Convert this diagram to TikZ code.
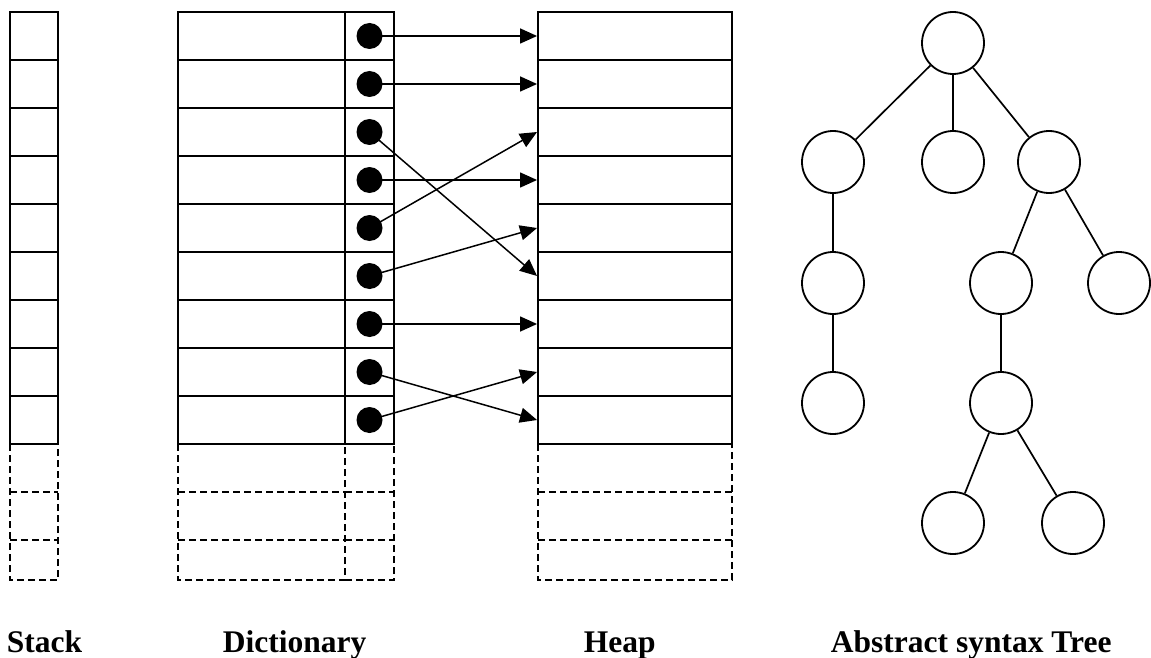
\documentclass[tikz,border=0pt]{standalone}
\usepackage{fontspec}
\setmainfont{Liberation Serif}
\usetikzlibrary{arrows.meta}
\begin{document}
\begin{tikzpicture}[x=1pt,y=-1pt,
  line width=1.9pt,
  cell/.style={draw, rectangle, inner sep=0pt, minimum height=48pt},
  ghost/.style={dash pattern=on 7pt off 4pt},
  ptr/.style={fill=black, circle, inner sep=0pt, minimum size=26pt},
  link/.style={-{Triangle[length=17pt,width=15pt]}, line width=1.5pt},
  tnode/.style={draw, circle, inner sep=0pt, minimum size=62pt, line width=1.8pt},
  tedge/.style={line width=1.7pt},
  caption/.style={anchor=base west, inner sep=0pt, font=\fontsize{31.5}{36}\selectfont\bfseries}]
\useasboundingbox (0,0) rectangle (1151,658);

% solid rows: stack, dictionary (key + pointer), heap
\foreach \i in {1,...,9}{
  \pgfmathsetmacro{\yc}{36+48*(\i-1)}
  \node[cell, minimum width=48pt]  (s\i) at (34,\yc) {};
  \node[cell, minimum width=167pt] (k\i) at (261.5,\yc) {};
  \node[cell, minimum width=49pt]  (c\i) at (369.5,\yc) {};
  \node[cell, minimum width=194pt] (h\i) at (635,\yc) {};
}

% free (dashed) rows below each column
\foreach \xa/\xb in {10/58, 178/345, 538/732}{
  \draw[ghost] (\xa,444) -- (\xa,580) -- (\xb,580) -- (\xb,444);
  \draw[ghost] (\xa,492) -- (\xb,492);
  \draw[ghost] (\xa,540) -- (\xb,540);
}
\draw[ghost] (345,580) -- (394,580) -- (394,444);
\draw[ghost] (345,492) -- (394,492);
\draw[ghost] (345,540) -- (394,540);

% pointers from dictionary entries into the heap
\foreach \i/\t in {1/1, 2/2, 3/6, 4/4, 5/3, 6/5, 7/7, 8/9, 9/8}{
  \draw[link] (c\i.center) -- (h\t.west);
  \node[ptr] (p\i) at (c\i.center) {};
}

% abstract syntax tree
\node[tnode] (r)  at (953,43) {};
\node[tnode] (a)  at (833,162) {};
\node[tnode] (b)  at (953,162) {};
\node[tnode] (c)  at (1049,162) {};
\node[tnode] (a1) at (833,283) {};
\node[tnode] (c1) at (1001,283) {};
\node[tnode] (c2) at (1119,283) {};
\node[tnode] (a2) at (833,403) {};
\node[tnode] (c3) at (1001,403) {};
\node[tnode] (c4) at (953,523) {};
\node[tnode] (c5) at (1073,523) {};
\draw[tedge] (r) -- (a);
\draw[tedge] (r) -- (b);
\draw[tedge] (r) -- (c);
\draw[tedge] (a) -- (a1);
\draw[tedge] (a1) -- (a2);
\draw[tedge] (c) -- (c1);
\draw[tedge] (c) -- (c2);
\draw[tedge] (c1) -- (c3);
\draw[tedge] (c3) -- (c4);
\draw[tedge] (c3) -- (c5);

% captions
\node[caption] (lstack) at (6,652) {Stack};
\node[caption] (ldict)  at (222,652) {Dictionary};
\node[caption] (lheap)  at (583,652) {Heap};
\node[caption] (last)   at (830,652) {Abstract syntax Tree};
\end{tikzpicture}
\end{document}
